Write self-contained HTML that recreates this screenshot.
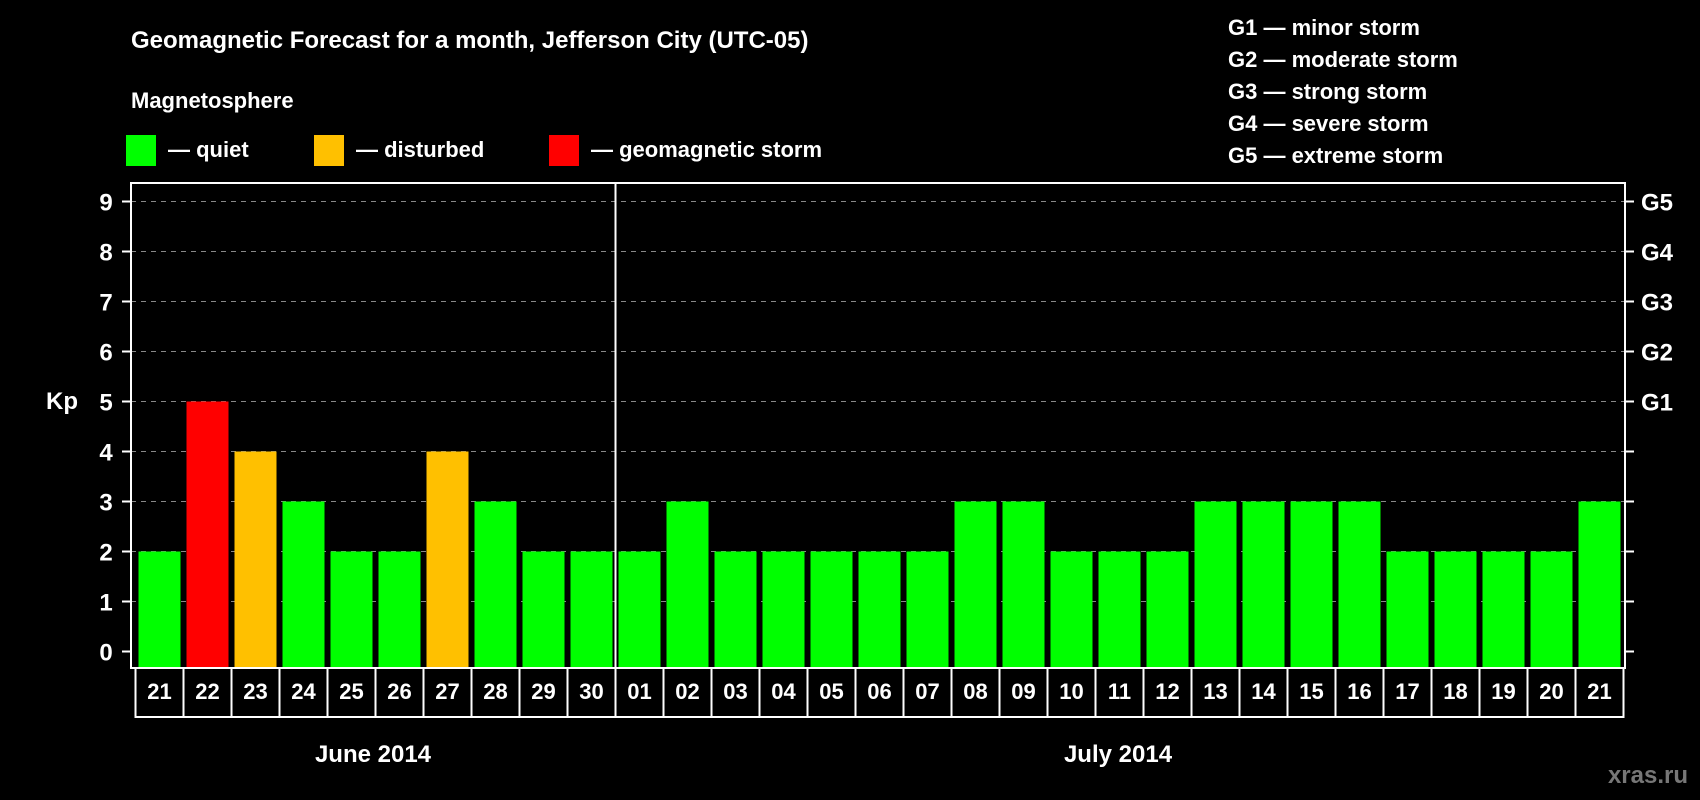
<!DOCTYPE html>
<html><head><meta charset="utf-8"><style>
html,body{margin:0;padding:0;background:#000;}
svg{display:block;font-family:"Liberation Sans",Arial,sans-serif;font-weight:bold;}
</style></head><body>
<svg id="chart" width="1700" height="800" viewBox="0 0 1700 800">
<text x="131" y="48" fill="#fff" font-size="24">Geomagnetic Forecast for a month, Jefferson City (UTC-05)</text>
<text x="131" y="108" fill="#fff" font-size="22">Magnetosphere</text>
<g><rect x="126" y="135" width="30" height="31" fill="#00ff00"/><text x="168" y="157" fill="#fff" font-size="22">— quiet</text></g>
<g><rect x="314" y="135" width="30" height="31" fill="#ffc000"/><text x="356" y="157" fill="#fff" font-size="22">— disturbed</text></g>
<g><rect x="549" y="135" width="30" height="31" fill="#ff0000"/><text x="591" y="157" fill="#fff" font-size="22">— geomagnetic storm</text></g>
<g fill="#fff" font-size="22">
<text x="1228" y="35">G1 — minor storm</text>
<text x="1228" y="67">G2 — moderate storm</text>
<text x="1228" y="99">G3 — strong storm</text>
<text x="1228" y="131">G4 — severe storm</text>
<text x="1228" y="163">G5 — extreme storm</text>
</g>
<text x="62" y="409" fill="#fff" font-size="24" text-anchor="middle">Kp</text>
<text x="373" y="762" fill="#fff" font-size="24" text-anchor="middle">June 2014</text>
<text x="1118" y="762" fill="#fff" font-size="24" text-anchor="middle">July 2014</text>
<text x="1688" y="783" fill="#777" font-size="24" text-anchor="end">xras.ru</text>
<g id="grid"></g><g id="bars"></g><g id="axes"></g><g id="labels"></g>
</svg>
<script>
const days=["21","22","23","24","25","26","27","28","29","30","01","02","03","04","05","06","07","08","09","10","11","12","13","14","15","16","17","18","19","20","21"];
const kp=[2,5,4,3,2,2,4,3,2,2,2,3,2,2,2,2,2,3,3,2,2,2,3,3,3,3,2,2,2,2,3];
const yTicks=[0,1,2,3,4,5,6,7,8,9];
const gLabels=["","","","","","G1","G2","G3","G4","G5"];
const NS="http://www.w3.org/2000/svg";
const L=131,R=1625,T=183,B=668,colX0=135.5,colW=48;
const y=v=>651.5-v*50;
const x=i=>colX0+i*colW;
function mk(tag,attrs,parent){const e=document.createElementNS(NS,tag);for(const k in attrs)e.setAttribute(k,attrs[k]);document.getElementById(parent).appendChild(e);return e;}
yTicks.forEach((v,i)=>{
 if(v>0){const g=mk('line',{x1:L,x2:R,y1:y(v),y2:y(v),stroke:'#888','stroke-width':1,'stroke-dasharray':'5,5'},'grid');
 
 }
 const t1=mk('line',{x1:L-9,x2:L,y1:y(v),y2:y(v),stroke:'#fff','stroke-width':2},'axes');
 
 
 const t2=mk('line',{x1:R,x2:R+9,y1:y(v),y2:y(v),stroke:'#fff','stroke-width':2},'axes');
 
 
 const lt=mk('text',{x:106,y:y(v)+9,fill:'#fff','font-size':24,'text-anchor':'middle'},'labels');
 lt.textContent=v;
 
 
 if(gLabels[i]){const gt=mk('text',{x:1641,y:y(v)+9,fill:'#fff','font-size':24},'labels');gt.textContent=gLabels[i];
 
 }
});
kp.forEach((v,i)=>{
 const c=v>=5?'#ff0000':(v>=4?'#ffc000':'#00ff00');
 const b=mk('rect',{x:x(i)+3,y:y(v),width:42,height:B-y(v),fill:c},'bars');
 
 
 const bx=mk('rect',{x:x(i),y:B,width:colW,height:49,fill:'none',stroke:'#fff','stroke-width':2},'axes');
 
 
 const t=mk('text',{x:x(i)+colW/2,y:699,fill:'#fff','font-size':22,'text-anchor':'middle'},'labels');
 t.textContent=days[i];
 
 
});
const fr=mk('rect',{x:L,y:T,width:R-L,height:B-T,fill:'none',stroke:'#fff','stroke-width':2},'axes');


const sep=mk('line',{x1:x(10),x2:x(10),y1:T,y2:B,stroke:'#fff','stroke-width':2},'axes');


</script>
</body></html>
